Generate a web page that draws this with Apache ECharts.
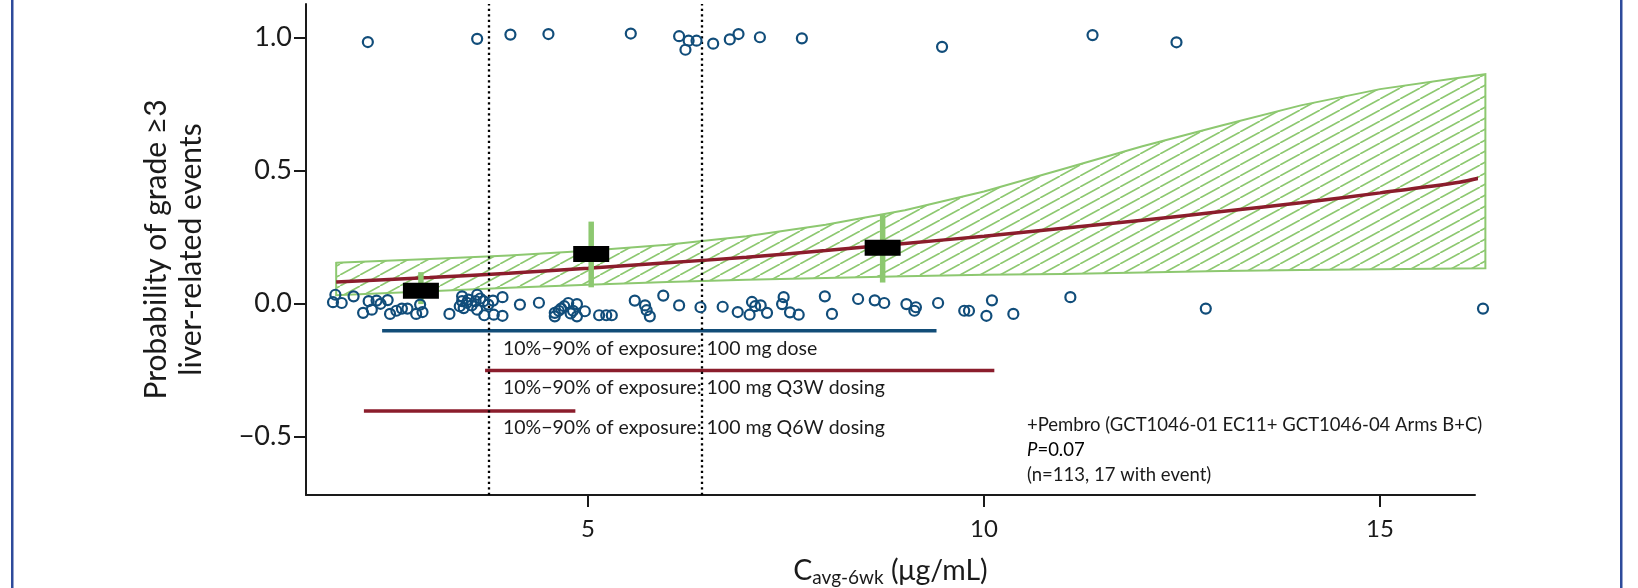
<!DOCTYPE html>
<html>
<head>
<meta charset="utf-8">
<script src="https://cdn.jsdelivr.net/npm/echarts@6/dist/echarts.min.js"></script>
<style>
    html, body { margin: 0; padding: 0; background: #fff; }
    #main { width: 1638px; height: 588px; }
</style>
</head>
<body>
<div id="main"></div>
<script>
// 有事件的患者 (y≈1，带抖动)
var eventX = [2.22, 3.60, 4.02, 4.50, 5.54, 6.15, 6.27, 6.37, 6.23, 6.58, 6.79, 6.90, 7.17, 7.70, 9.47, 11.37, 12.43];
var eventY = [0.982, 0.994, 1.010, 1.012, 1.014, 1.004, 0.987, 0.987, 0.953, 0.976, 0.992, 1.012, 1.000, 0.996, 0.964, 1.008, 0.981];

// 无事件的患者 (y≈0，带抖动)
var noEventX = [1.81, 1.78, 1.89, 2.04, 2.16, 2.23, 2.27, 2.33, 2.38, 2.47, 2.50, 2.58, 2.65, 2.72, 2.83, 2.88, 2.91,
    3.25, 3.41, 3.41, 3.38, 3.43, 3.47, 3.49, 3.53, 3.60, 3.58, 3.60, 3.64, 3.68, 3.74, 3.69, 3.80, 3.81, 3.92, 3.92,
    4.14, 4.38, 4.58, 4.58, 4.63, 4.66, 4.70, 4.75, 4.78, 4.86, 4.81, 4.86, 4.96, 5.14, 5.23, 5.30, 5.59, 5.72, 5.74,
    5.78, 5.95, 6.15, 6.42, 6.70, 6.89, 7.04, 7.07, 7.11, 7.18, 7.26, 7.47, 7.45, 7.55, 7.66, 7.99, 8.08, 8.41, 8.62,
    8.74, 9.02, 9.14, 9.12, 9.42, 9.75, 9.81, 10.03, 10.10, 10.37, 11.09, 12.80, 16.30];
var noEventY = [0.032, 0.004, 0.001, 0.026, -0.036, 0.008, -0.024, 0.010, -0.002, 0.012, -0.040, -0.028, -0.020, -0.020, -0.040, -0.005, -0.033,
    -0.040, 0.026, 0.008, -0.011, -0.018, 0.002, 0.014, -0.008, 0.032, 0.008, -0.024, 0.018, 0.008, -0.005, -0.045, 0.010, -0.043, 0.023, -0.047,
    -0.005, 0.002, -0.036, -0.049, -0.028, -0.020, -0.011, 0.001, -0.038, -0.003, -0.028, -0.049, -0.030, -0.045, -0.045, -0.045, 0.010, -0.008, -0.026,
    -0.049, 0.029, -0.008, -0.015, -0.013, -0.033, -0.043, 0.005, -0.011, -0.008, -0.036, 0.023, -0.003, -0.034, -0.043, 0.026, -0.040, 0.016, 0.011,
    0.001, -0.003, -0.015, -0.028, 0.001, -0.028, -0.028, -0.047, 0.011, -0.040, 0.023, -0.020, -0.020];

// 置信带
var bandX = [1.82, 3, 4, 5, 6, 7, 8, 9, 10, 11, 12, 13, 14, 15, 16, 16.33];
var bandLow = [0.030, 0.045, 0.058, 0.070, 0.080, 0.088, 0.095, 0.102, 0.107, 0.110, 0.116, 0.121, 0.125, 0.128, 0.131, 0.132];
var bandHigh = [0.152, 0.166, 0.180, 0.197, 0.220, 0.252, 0.295, 0.350, 0.420, 0.505, 0.590, 0.668, 0.744, 0.805, 0.848, 0.861];

// 拟合曲线
var fitX = [1.82, 3, 4, 5, 6, 7, 8, 9, 10, 11, 12, 13, 14, 15, 16, 16.33];
var fitY = [0.080, 0.097, 0.113, 0.132, 0.152, 0.173, 0.198, 0.225, 0.252, 0.282, 0.312, 0.345, 0.378, 0.415, 0.455, 0.476];

// 分组观测比例及区间
var binX = [2.89, 5.04, 8.72];
var binY = [0.047, 0.185, 0.209];
var binLow = [-0.003, 0.060, 0.078];
var binHigh = [0.117, 0.307, 0.336];

// 10%-90% 暴露区间
var doseStart = [2.40];
var doseEnd = [9.40];
var doseY = [-0.103];
var schedStart = [3.70, 2.17];
var schedEnd = [10.13, 4.84];
var schedY = [-0.253, -0.405];
var rangeText = ['10%\u221290% of exposure: 100 mg dose', '10%\u221290% of exposure: 100 mg Q3W dosing', '10%\u221290% of exposure: 100 mg Q6W dosing'];

// 分界线
var cutoffX = [3.75, 6.44];

// 刻度
var xTicks = [5, 10, 15];
var yTicks = [-0.5, 0, 0.5, 1.0];

var FONT = 'Lato';
var GREEN = '#8dc870';
var INK = '#1a1a1a';

function makeHatch() {
    var c = document.createElement('canvas');
    c.width = 20;
    c.height = 11;
    var ctx = c.getContext('2d');
    ctx.strokeStyle = GREEN;
    ctx.lineWidth = 1.6;
    for (var k = -1; k <= 1; k++) {
        ctx.beginPath();
        ctx.moveTo(k * 20, 11);
        ctx.lineTo(k * 20 + 20, 0);
        ctx.stroke();
    }
    return c;
}

function pairs(xs, ys) {
    var out = [];
    for (var i = 0; i < xs.length; i++) {
        out.push([xs[i], ys[i]]);
    }
    return out;
}

function triples(a, b, c) {
    var out = [];
    for (var i = 0; i < a.length; i++) {
        out.push([a[i], b[i], c[i]]);
    }
    return out;
}

// 水平区间线
function hLine(color) {
    return function (params, api) {
        var a = api.coord([api.value(0), api.value(2)]);
        var b = api.coord([api.value(1), api.value(2)]);
        return {
            type: 'line',
            shape: {x1: a[0], y1: a[1], x2: b[0], y2: b[1]},
            style: {stroke: color, lineWidth: 3.5}
        };
    };
}

function label(text, x, y, size) {
    return {
        type: 'text', x: x, y: y,
        style: {text: text, font: size + 'px ' + FONT, fill: INK, verticalAlign: 'middle'}
    };
}

var hatch = {image: makeHatch(), repeat: 'repeat'};
var myChart = echarts.init(document.getElementById('main'));

var option = {
    backgroundColor: '#fff',
    animation: false,
    textStyle: {fontFamily: FONT},
    grid: {left: 306, right: 163, top: 4, bottom: 93, containLabel: false, outerBoundsMode: 'none'},
    xAxis: {
        type: 'value',
        min: 1.439,
        max: 16.199,
        name: '{c|C}{s|avg-6wk}{c| (\u03bcg/mL)}',
        nameLocation: 'middle',
        nameGap: 60,
        nameTextStyle: {
            rich: {
                c: {fontSize: 28.5, fontFamily: FONT, color: INK},
                s: {fontSize: 19, fontFamily: FONT, color: INK, padding: [13, 0, 0, 0]}
            }
        },
        axisLine: {onZero: false, lineStyle: {color: INK, width: 2}},
        axisTick: {customValues: xTicks, length: 12, lineStyle: {color: INK, width: 2}},
        axisLabel: {customValues: xTicks, margin: 22, fontSize: 24, color: INK, fontFamily: FONT},
        splitLine: {show: false}
    },
    yAxis: {
        type: 'value',
        min: -0.7207,
        max: 1.125,
        name: 'Probability of grade \u22653\nliver-related events',
        nameLocation: 'middle',
        nameRotate: 90,
        nameGap: 97,
        nameTextStyle: {fontSize: 30, lineHeight: 35, color: INK, fontFamily: FONT},
        axisLine: {onZero: false, lineStyle: {color: INK, width: 2}},
        axisTick: {customValues: yTicks, length: 12, lineStyle: {color: INK, width: 2}},
        axisLabel: {
            customValues: yTicks,
            margin: 14,
            fontSize: 27,
            color: INK,
            fontFamily: FONT,
            formatter: function (v) {
                return v < 0 ? '\u2212' + Math.abs(v).toFixed(1) : v.toFixed(1);
            }
        },
        splitLine: {show: false}
    },
    series: [
        {
            // 置信带（斜线填充）
            type: 'custom',
            clip: false,
            silent: true,
            z: 1,
            data: [[bandX[0], bandLow[0]]],
            renderItem: function (params, api) {
                var pts = [];
                for (var i = 0; i < bandX.length; i++) {
                    pts.push(api.coord([bandX[i], bandHigh[i]]));
                }
                for (var j = bandX.length - 1; j >= 0; j--) {
                    pts.push(api.coord([bandX[j], bandLow[j]]));
                }
                return {
                    type: 'polygon',
                    shape: {points: pts},
                    style: {fill: hatch, stroke: GREEN, lineWidth: 2}
                };
            }
        },
        {
            // 拟合曲线
            type: 'line',
            clip: false,
            silent: true,
            z: 2,
            smooth: 0.3,
            showSymbol: false,
            data: pairs(fitX, fitY),
            lineStyle: {color: '#8b1d2c', width: 3.5}
        },
        {
            // 误差线
            type: 'custom',
            silent: true,
            z: 3,
            data: triples(binX, binLow, binHigh),
            renderItem: function (params, api) {
                var a = api.coord([api.value(0), api.value(1)]);
                var b = api.coord([api.value(0), api.value(2)]);
                return {
                    type: 'line',
                    shape: {x1: a[0], y1: a[1], x2: b[0], y2: b[1]},
                    style: {stroke: GREEN, lineWidth: 5.5}
                };
            }
        },
        {
            // 分组观测值
            type: 'scatter',
            silent: true,
            z: 4,
            symbol: 'rect',
            symbolSize: [36, 16],
            data: pairs(binX, binY),
            itemStyle: {color: '#000', opacity: 1}
        },
        {
            // 无事件
            type: 'scatter',
            clip: false,
            silent: true,
            z: 5,
            symbol: 'circle',
            symbolSize: 10,
            data: pairs(noEventX, noEventY),
            itemStyle: {color: 'rgba(0,0,0,0)', borderColor: '#114d7a', borderWidth: 2.2, opacity: 1},
            markLine: {
                silent: true,
                symbol: 'none',
                label: {show: false},
                lineStyle: {color: '#000', width: 2.3, type: [2.3, 3.2]},
                data: cutoffX.map(function (x) {
                    return {xAxis: x};
                })
            }
        },
        {
            // 有事件
            type: 'scatter',
            clip: false,
            silent: true,
            z: 5,
            symbol: 'circle',
            symbolSize: 10,
            data: pairs(eventX, eventY),
            itemStyle: {color: 'rgba(0,0,0,0)', borderColor: '#114d7a', borderWidth: 2.2, opacity: 1}
        },
        {
            // 暴露区间：剂量
            type: 'custom',
            silent: true,
            z: 3,
            data: triples(doseStart, doseEnd, doseY),
            renderItem: hLine('#124d78')
        },
        {
            // 暴露区间：给药方案
            type: 'custom',
            silent: true,
            z: 3,
            data: triples(schedStart, schedEnd, schedY),
            renderItem: hLine('#8b1d2c')
        }
    ],
    graphic: [
        {type: 'rect', shape: {x: 11, y: 0, width: 2.5, height: 588}, style: {fill: '#2e4b9b'}},
        {type: 'rect', shape: {x: 1620, y: 0, width: 2.5, height: 588}, style: {fill: '#2e4b9b'}},
        label(rangeText[0], 503, 349, 19.5),
        label(rangeText[1], 503, 388, 19.5),
        label(rangeText[2], 503, 428, 19.5),
        label('+Pembro (GCT1046-01 EC11+ GCT1046-04 Arms B+C)', 1027, 425, 18.5),
        {
            type: 'text', x: 1027, y: 450,
            style: {
                text: '{i|P}{n|=0.07}',
                verticalAlign: 'middle',
                rich: {
                    i: {fontStyle: 'italic', fontSize: 18.5, fontFamily: FONT, color: INK},
                    n: {fontSize: 18.5, fontFamily: FONT, color: INK}
                }
            }
        },
        label('(n=113, 17 with event)', 1027, 475, 18.5)
    ]
};

myChart.setOption(option);
</script>
</body>
</html>
